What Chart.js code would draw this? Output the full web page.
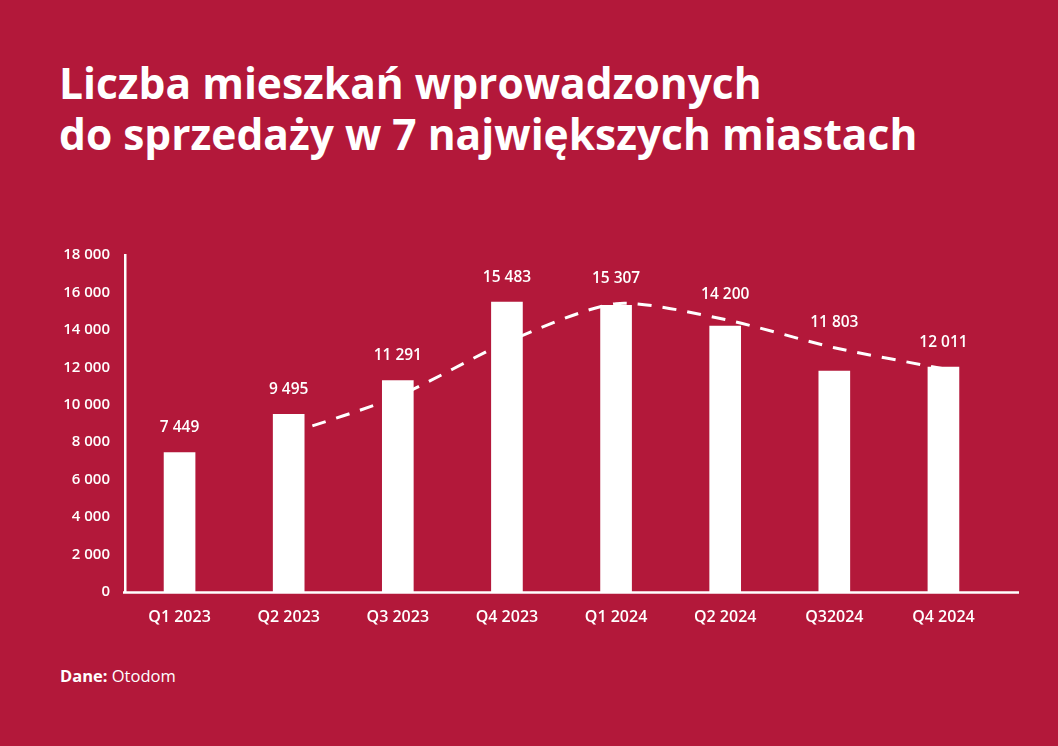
<!DOCTYPE html>
<html>
<head>
<meta charset="utf-8">
<script src="https://cdn.jsdelivr.net/npm/chart.js@4/dist/chart.umd.min.js"></script>
<style>
  html, body { margin:0; padding:0; }
  body { width:1058px; height:746px; background:#B3183A; position:relative; overflow:hidden; font-family:"Open Sans", sans-serif; color:#fff; }
  #title { position:absolute; left:59px; top:57px; font-size:42.5px; line-height:51px; font-weight:700; margin:0; white-space:nowrap; }
  #src { position:absolute; left:60px; top:665px; font-size:16.5px; line-height:22px; }
  #src b { font-weight:700; }
  canvas { position:absolute; left:0; top:220px; }
</style>
</head>
<body>
<h1 id="title">Liczba mieszkań wprowadzonych<br>do sprzedaży w 7 największych miastach</h1>
<div id="src"><b>Dane:</b> Otodom</div>
<canvas id="c" width="1058" height="460"></canvas>
<script>
const categories = ['Q1 2023','Q2 2023','Q3 2023','Q4 2023','Q1 2024','Q2 2024','Q32024','Q4 2024'];
const flats = [7449, 9495, 11291, 15483, 15307, 14200, 11803, 12011];
const trend = [null, 8450, 10450, 13350, 15400, 14550, 13050, 11920];
const yTicks = [0, 2000, 4000, 6000, 8000, 10000, 12000, 14000, 16000, 18000];

const fmt = v => String(v).replace(/\B(?=(\d{3})+(?!\d))/g, ' ');
const WHITE = '#ffffff';

const valueLabels = {
  id: 'valueLabels',
  afterDatasetsDraw(chart) {
    const ctx = chart.ctx;
    const bars = chart.getDatasetMeta(0).data;
    const pts = chart.getDatasetMeta(1).data;
    ctx.save();
    ctx.fillStyle = WHITE;
    ctx.font = '600 15.5px "Open Sans"';
    ctx.textAlign = 'center';
    ctx.textBaseline = 'middle';
    bars.forEach((el, i) => {
      let top = el.y;
      const p = pts[i];
      if (trend[i] !== null && p && !p.skip) top = Math.min(top, p.y);
      ctx.fillText(fmt(flats[i]), el.x, top - 25);
    });
    ctx.restore();
  }
};
const xAxisLine = {
  id: 'xAxisLine',
  afterDraw(chart) {
    const {ctx, chartArea} = chart;
    ctx.save();
    ctx.strokeStyle = WHITE;
    ctx.lineWidth = 2.5;
    ctx.beginPath();
    ctx.moveTo(chartArea.left - 2, chartArea.bottom + 0.5);
    ctx.lineTo(1019, chartArea.bottom + 0.5);
    ctx.stroke();
    ctx.restore();
  }
};

new Chart(document.getElementById('c'), {
  data: {
    labels: categories,
    datasets: [
      { type:'bar', data: flats, backgroundColor: WHITE, barThickness: 31, order: 0 },
      { type:'line', data: trend, borderColor: WHITE, borderWidth: 3, borderDash: [14, 11],
        pointRadius: 0, tension: 0.25, fill: false, spanGaps: false, order: 1 }
    ]
  },
  options: {
    responsive: false,
    animation: false,
    layout: { padding: { top: 35, right: 60, left: 0, bottom: 0 } },
    plugins: { legend: { display:false }, tooltip: { enabled:false }, title: { display:false } },
    scales: {
      x: {
        grid: { display:false, drawTicks:false },
        border: { display:false },
        ticks: { color: WHITE, font: { family:'Open Sans', size:16, weight:'600' }, padding: 16, maxRotation:0 },
        afterFit(s) { s.height = 88; }
      },
      y: {
        min: 0, max: 18000,
        afterBuildTicks(s) { s.ticks = yTicks.map(v => ({ value: v })); },
        grid: { display:false, drawTicks:false },
        border: { display:true, color: WHITE, width: 2.5 },
        ticks: { color: WHITE, font: { family:'Open Sans', size:15, weight:'600' }, padding: 15,
                 callback: v => fmt(v) },
        afterFit(s) { s.width = 125; }
      }
    }
  },
  plugins: [valueLabels, xAxisLine]
});
</script>
</body>
</html>
